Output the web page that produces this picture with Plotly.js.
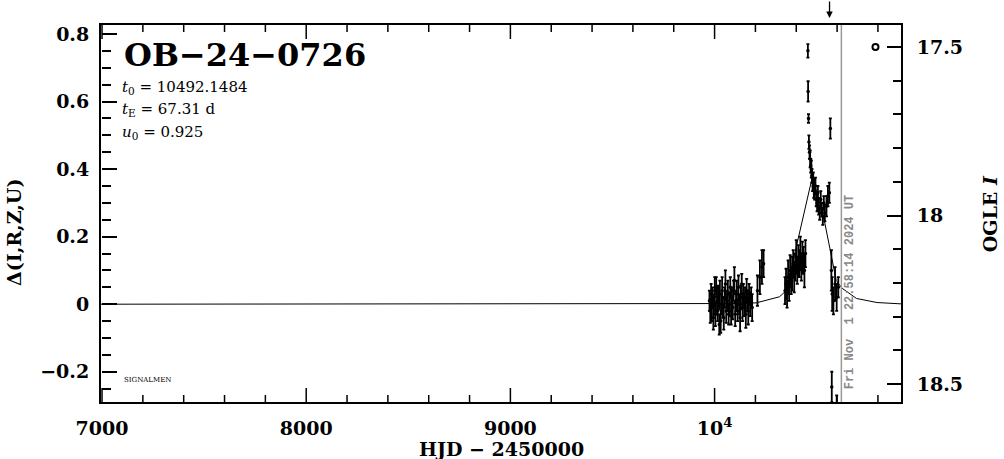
<!DOCTYPE html>
<html><head><meta charset="utf-8">
<script src="https://cdn.plot.ly/plotly-3.0.1.min.js"></script>
<style>html,body{margin:0;padding:0;background:#fff}</style>
</head><body><div id="chart" style="width:1004px;height:459px"></div>
<script>
// Model curve
const modelT = [6995, 9800, 10000, 10100, 10204, 10318, 10351, 10480, 10540, 10596, 10625, 10695, 10795, 10913];
const modelD = [0, 0, 0.001, 0.002, 0.004, 0.022, 0.04, 0.38, 0.24, 0.07, 0.047, 0.017, 0.005, 0.001];

// Season 1 photometry
const s1T = [9975, 9979, 9983, 9986, 9990, 9994, 9997, 10001, 10004, 10008, 10012, 10015, 10019, 10023, 10026, 10030, 10034, 10037, 10041, 10045, 10049, 10053, 10057, 10061, 10065, 10069, 10073, 10077, 10081, 10085, 10089, 10093, 10097, 10101, 10105, 10109, 10113, 10117, 10121, 10125, 10129, 10133, 10137, 10141, 10145, 10149, 10153, 10157, 10161, 10165, 10169, 10174, 10179, 10184, 10210, 10222, 10232, 10240];
const s1D = [0.01, -0.02, 0.03, -0.01, 0.02, -0.04, 0.00, 0.04, -0.03, 0.05, 0.01, -0.02, 0.02, -0.06, 0.03, -0.05, 0.00, 0.04, -0.01, -0.04, 0.02, 0.06, -0.02, 0.01, 0.03, -0.03, 0.00, 0.05, -0.02, 0.02, -0.01, 0.04, 0.07, -0.03, 0.01, 0.03, -0.02, 0.05, 0.00, -0.04, 0.02, 0.06, -0.01, 0.03, 0.00, 0.02, -0.03, 0.04, 0.01, -0.02, 0.03, 0.00, 0.02, -0.01, 0.04, 0.08, 0.11, 0.12];
const s1E = [0.03, 0.035, 0.03, 0.04, 0.03, 0.035, 0.03, 0.04, 0.035, 0.03, 0.04, 0.03, 0.035, 0.03, 0.04, 0.035, 0.03, 0.04, 0.03, 0.035, 0.03, 0.04, 0.035, 0.03, 0.04, 0.03, 0.035, 0.03, 0.04, 0.03, 0.035, 0.03, 0.04, 0.035, 0.03, 0.04, 0.03, 0.035, 0.03, 0.04, 0.035, 0.03, 0.04, 0.03, 0.035, 0.03, 0.04, 0.035, 0.03, 0.04, 0.03, 0.035, 0.03, 0.04, 0.045, 0.05, 0.05, 0.04];

// Season 2 photometry
const s2T = [10345, 10350, 10355, 10360, 10365, 10370, 10375, 10380, 10385, 10390, 10395, 10400, 10405, 10410, 10415, 10420, 10425, 10430, 10435, 10440, 10445,
             10457, 10458, 10460, 10462, 10465, 10468, 10471, 10474, 10477, 10480, 10483, 10486, 10490, 10494, 10498, 10502, 10506, 10510, 10515, 10520, 10525, 10530, 10535, 10540, 10548, 10555, 10562, 10567,
             10572, 10576, 10582, 10590, 10598, 10606, 10574, 10598];
const s2D = [0.04, 0.06, 0.03, 0.08, 0.05, 0.10, 0.07, 0.09, 0.12, 0.08, 0.11, 0.14, 0.10, 0.13, 0.12, 0.15, 0.11, 0.14, 0.13, 0.10, 0.15,
             0.75, 0.63, 0.55, 0.48, 0.45, 0.43, 0.41, 0.40, 0.38, 0.36, 0.37, 0.34, 0.33, 0.35, 0.31, 0.30, 0.33, 0.29, 0.27, 0.31, 0.28, 0.26, 0.30, 0.27, 0.29, 0.32, 0.33, 0.52,
             0.10, 0.03, 0.01, 0.06, 0.02, 0.05, -0.245, -0.33];
const s2E = [0.04, 0.045, 0.04, 0.05, 0.04, 0.045, 0.04, 0.05, 0.04, 0.045, 0.04, 0.05, 0.04, 0.045, 0.04, 0.05, 0.04, 0.045, 0.04, 0.05, 0.04,
             0.02, 0.03, 0.013, 0.02, 0.02, 0.025, 0.02, 0.025, 0.02, 0.025, 0.02, 0.025, 0.02, 0.025, 0.02, 0.025, 0.02, 0.025, 0.02, 0.025, 0.02, 0.025, 0.02, 0.025, 0.03, 0.03, 0.03, 0.03,
             0.06, 0.05, 0.04, 0.05, 0.04, 0.03, 0.045, 0.06];

// OGLE reference marker (magnitude scale)
const refT = [10788];
const refMag = [17.5];

// x-axis tick positions and labels
const xTicks = [7000, 8000, 9000, 10000];
const xTickText = ['7000', '8000', '9000', '10<sup>4</sup>'];
const xMinorTicks = [7200, 7400, 7600, 7800, 8200, 8400, 8600, 8800, 9200, 9400, 9600, 9800, 10200, 10400, 10600, 10800];
const eventDate = 10621;
const arrowT = 10563;

const xRange = [6995, 10913];
const dRange = [-0.2895, 0.8266];
const magRange = [18.553, 17.435];

const serif = 'DejaVu Serif';
const tickFont = {family: serif, size: 19, color: '#000', weight: 'bold'};

const obsT = s1T.concat(s2T), obsD = s1D.concat(s2D), obsE = s1E.concat(s2E);

// inward x tick marks on bottom and top frame edges (x in data units, y in paper units)
function tickShapes(vals, frac) {
  const out = [];
  vals.forEach(v => {
    out.push({type: 'line', xref: 'x', yref: 'paper', x0: v, x1: v, y0: 0, y1: frac, line: {color: '#000', width: 1.5}});
    out.push({type: 'line', xref: 'x', yref: 'paper', x0: v, x1: v, y0: 1 - frac, y1: 1, line: {color: '#000', width: 1.5}});
  });
  return out;
}

const traces = [
  {x: modelT, y: modelD, mode: 'lines', line: {color: '#000', width: 1}, hoverinfo: 'skip', xaxis: 'x', yaxis: 'y'},
  {x: obsT, y: obsD, mode: 'markers', marker: {color: '#000', size: 3.5},
   error_y: {type: 'data', array: obsE, visible: true, color: '#000', thickness: 1.8, width: 1.5},
   xaxis: 'x', yaxis: 'y'},
  {x: refT, y: refMag, mode: 'markers', marker: {symbol: 'circle-open', color: '#000', size: 6, line: {width: 2}}, xaxis: 'x', yaxis: 'y2'},
  // invisible carriers so the tick-only y axes get drawn
  {x: modelT, y: modelD, mode: 'lines', opacity: 0, hoverinfo: 'skip', xaxis: 'x', yaxis: 'y3'},
  {x: refT, y: refMag, mode: 'markers', opacity: 0, hoverinfo: 'skip', xaxis: 'x', yaxis: 'y4'}
];

const tk = {tickcolor: '#000', tickwidth: 1.5};
const noLab = {showticklabels: false, showline: false, showgrid: false, zeroline: false, ticks: 'outside'};

const layout = {
  width: 1004, height: 459,
  margin: {l: 101, r: 103, t: 25, b: 57},
  paper_bgcolor: '#fff', plot_bgcolor: '#fff',
  showlegend: false,
  xaxis: {range: xRange, tickmode: 'array', tickvals: xTicks, ticktext: xTickText, ticks: '', ticklabelstandoff: 8,
    showline: true, linewidth: 2, linecolor: '#000', mirror: true, showgrid: false, zeroline: false, tickfont: tickFont},
  yaxis: {range: dRange, tickmode: 'linear', tick0: 0, dtick: 0.2, ticks: '', ticklabelstandoff: 6,
    showline: true, linewidth: 2, linecolor: '#000', showgrid: false, zeroline: false, tickfont: tickFont},
  yaxis2: {overlaying: 'y', side: 'right', anchor: 'x', range: magRange, tickmode: 'linear', tick0: 17.5, dtick: 0.5, ticks: '',
    ticklabelstandoff: 10,
    showline: true, linewidth: 2, linecolor: '#000', showgrid: false, zeroline: false, tickfont: tickFont},
  yaxis3: Object.assign({}, noLab, tk, {overlaying: 'y', side: 'right', anchor: 'free', position: 0, range: dRange,
    tickmode: 'linear', tick0: 0, dtick: 0.2, ticklen: 15,
    minor: {tickmode: 'linear', tick0: 0, dtick: 0.05, ticks: 'outside', ticklen: 9, tickwidth: 1.5, tickcolor: '#000'}}),
  yaxis4: Object.assign({}, noLab, tk, {overlaying: 'y', side: 'left', anchor: 'free', position: 1, range: magRange,
    tickmode: 'linear', tick0: 17.5, dtick: 0.5, ticklen: 14,
    minor: {tickmode: 'linear', tick0: 17.5, dtick: 0.1, ticks: 'outside', ticklen: 8, tickwidth: 1.5, tickcolor: '#000'}}),
  shapes: [
    {type: 'line', xref: 'x', yref: 'paper', x0: eventDate, x1: eventDate, y0: 0, y1: 1, line: {color: '#999', width: 1.5}}
  ].concat(tickShapes(xTicks, 14 / 377), tickShapes(xMinorTicks, 7 / 377)),
  annotations: [
    {xref: 'paper', yref: 'paper', x: 0.026, y: 0.92, xanchor: 'left', yanchor: 'middle', showarrow: false,
     text: 'OB\u221224\u22120726', font: {family: serif, size: 32, color: '#000', weight: 'bold'}},
    {xref: 'paper', yref: 'paper', x: 0.024, y: 0.833, xanchor: 'left', yanchor: 'middle', showarrow: false,
     text: '<i>t</i><sub>0</sub> = 10492.1484', font: {family: serif, size: 15, color: '#000'}},
    {xref: 'paper', yref: 'paper', x: 0.024, y: 0.775, xanchor: 'left', yanchor: 'middle', showarrow: false,
     text: '<i>t</i><sub>E</sub> = 67.31 d', font: {family: serif, size: 15, color: '#000'}},
    {xref: 'paper', yref: 'paper', x: 0.024, y: 0.714, xanchor: 'left', yanchor: 'middle', showarrow: false,
     text: '<i>u</i><sub>0</sub> = 0.925', font: {family: serif, size: 15, color: '#000'}},
    {xref: 'paper', yref: 'paper', x: 0.026, y: 0.058, xanchor: 'left', yanchor: 'middle', showarrow: false,
     text: 'SIGNALMEN', font: {family: serif, size: 7, color: '#000'}},
    {xref: 'paper', yref: 'paper', x: 0.5, y: -0.125, xanchor: 'center', yanchor: 'middle', showarrow: false,
     text: 'HJD \u2212 2450000', font: tickFont},
    {xref: 'paper', yref: 'paper', x: -0.108, y: 0.45, xanchor: 'center', yanchor: 'middle', showarrow: false, textangle: -90,
     text: '\u0394(I,R,Z,U)', font: tickFont},
    {xref: 'paper', yref: 'paper', x: 1.111, y: 0.5, xanchor: 'center', yanchor: 'middle', showarrow: false, textangle: -90,
     text: 'OGLE <i>I</i>', font: tickFont},
    {xref: 'x', yref: 'paper', x: eventDate, xshift: 9, y: 0.292, xanchor: 'center', yanchor: 'middle', showarrow: false, textangle: -90,
     text: 'Fri Nov  1 22:58:14 2024 UT', font: {family: 'Liberation Mono', size: 12, color: '#888', weight: 'bold'}},
    {xref: 'x', yref: 'paper', x: arrowT, y: 1.0186, ax: 0, ay: -18, axref: 'pixel', ayref: 'pixel', showarrow: true, text: '',
     arrowhead: 2, arrowsize: 1, arrowwidth: 1.3, arrowcolor: '#000'}
  ]
};

Plotly.newPlot('chart', traces, layout, {displayModeBar: false});
</script></body></html>
